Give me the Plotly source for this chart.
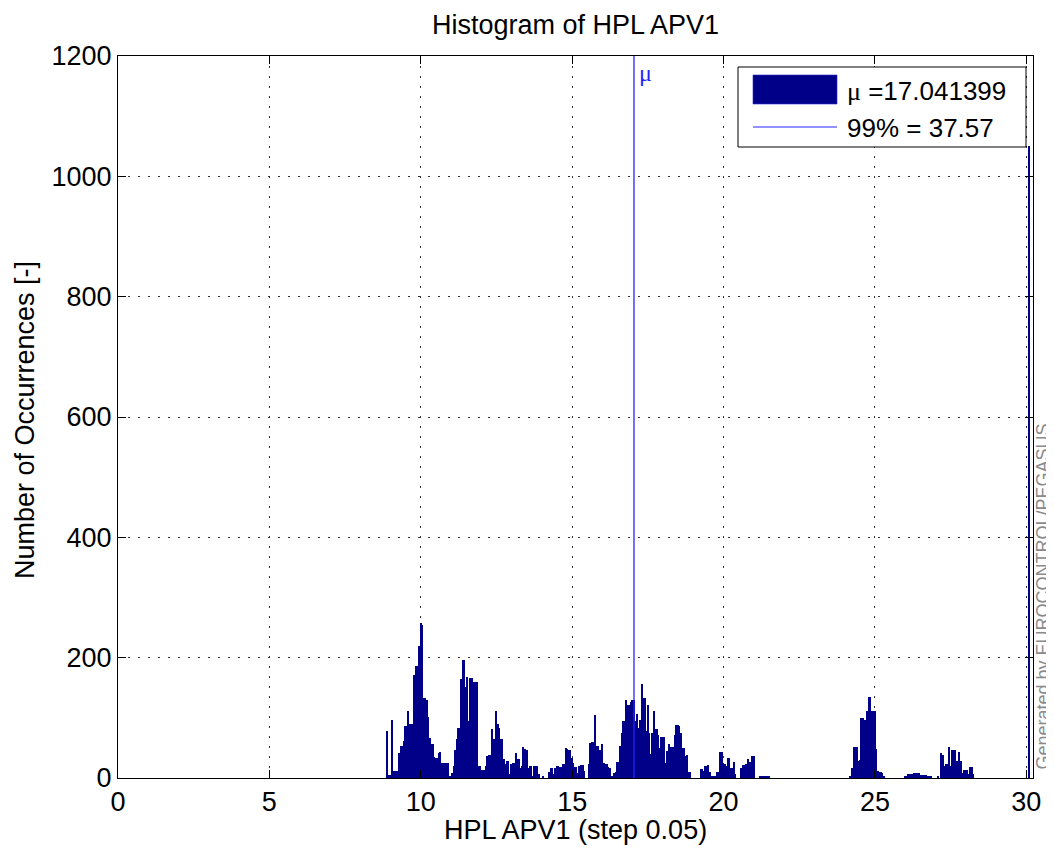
import plotly.graph_objects as go

# ---------------- data ----------------
bin_start = 8.90      # centre of first bin
bin_step = 0.05       # histogram step
counts = [
    # 8.90 - 12.20
    78, 5, 5, 96, 12, 12, 12, 12, 42, 53, 53, 61, 86, 86, 111, 89, 90, 90, 171, 186,
    186, 220, 258, 255, 133, 133, 129, 102, 67, 56, 56, 35, 34, 34, 41, 43, 25, 25, 25, 25,
    25, 3, 3, 8, 20, 46, 64, 83, 83, 164, 196, 196, 152, 168, 94, 166, 166, 160, 159, 159,
    20, 20, 13, 13, 13, 20, 36,
    # 12.25 - 15.85
    39, 39, 82, 65, 65, 112, 90, 83, 65, 65, 31, 24, 28, 28, 6, 23, 25, 25, 41, 32,
    32, 17, 20, 52, 49, 47, 17, 20, 20, 4, 20, 20, 20, 6, 0, 0, 4, 0, 0, 0,
    10, 17, 17, 6, 17, 20, 20, 19, 19, 23, 23, 50, 48, 47, 47, 34, 25, 19, 19, 8,
    20, 21, 21, 12, 0, 0, 23, 58, 60, 60, 105, 53, 53,
    # 15.90 - 19.45
    47, 47, 56, 25, 24, 24, 19, 17, 3, 3, 8, 10, 26, 26, 53, 74, 94, 94, 130, 122,
    122, 127, 130, 129, 94, 107, 83, 97, 156, 133, 133, 78, 121, 75, 40, 75, 111, 82, 82, 72,
    50, 68, 68, 68, 25, 45, 57, 52, 52, 52, 71, 88, 88, 87, 75, 50, 50, 37, 39, 10,
    10, 0, 0, 0, 0, 0, 0, 15, 15, 12, 20, 20,
    # 19.50 - 21.50
    21, 10, 4, 4, 4, 4, 10, 10, 43, 43, 25, 24, 20, 34, 34, 17, 17, 26, 6, 0,
    0, 0, 17, 21, 21, 24, 31, 26, 26, 36, 36, 0, 0, 0, 4, 4, 4, 4, 3, 3, 4,
    # 21.55 - 24.15
    0, 0, 0, 0, 0, 0, 0, 0, 0, 0, 0, 0, 0, 0, 0, 0, 0, 0, 0, 0,
    0, 0, 0, 0, 0, 0, 0, 0, 0, 0, 0, 0, 0, 0, 0, 0, 0, 0, 0, 0,
    0, 0, 0, 0, 0, 0, 0, 0, 0, 0, 0, 0, 0,
    # 24.20 - 26.70
    3, 17, 52, 52, 52, 28, 30, 100, 100, 96, 96, 112, 134, 134, 112, 112, 112, 48, 12, 10,
    10, 8, 3, 0, 0, 0, 0, 0, 0, 0, 0, 0, 0, 0, 0, 0, 4, 4, 6, 6,
    7, 7, 9, 9, 8, 8, 5, 5, 5, 5, 5,
    # 26.75 - 28.25
    3, 3, 3, 0, 0, 0, 0, 3, 0, 41, 39, 20, 23, 23, 52, 20, 46, 46, 46, 28,
    28, 43, 28, 8, 14, 14, 14, 6, 19, 19, 6,
]
overflow_x = 30.1       # last (overflow) bin
overflow_count = 1050
mean_value = 17.041399
p99_value = 37.57
x_ticks = [0, 5, 10, 15, 20, 25, 30]
y_ticks = [0, 200, 400, 600, 800, 1000, 1200]

title_text = "Histogram of HPL APV1"
x_title = "HPL APV1 (step 0.05)"
y_title = "Number of Occurrences [-]"
MU = '<span style="font-family:Liberation Serif, DejaVu Serif, serif">\u03bc</span>'
legend_bar_text = MU + " =%.6f" % mean_value
legend_line_text = "99%% = %.2f" % p99_value
watermark = "Generated by EUROCONTROL/PEGASUS"

# ---------------- figure ----------------
OFF = 8                      # page body margin of the html page
W, H = 1054 - OFF, 850 - OFF
L = 118 - OFF
T = 56 - OFF
R = W - (1033 - OFF)
B = H - (778 - OFF)
FONT = "Liberation Sans, Arial, sans-serif"
NAVY = "#000088"
BLUE = "#2424ff"


def px(xp):
    """page x pixel -> paper fraction"""
    return (xp - OFF - L) / (W - L - R)


def py(yp):
    """page y pixel -> paper fraction"""
    return (H - B - (yp - OFF)) / (H - T - B)


bin_x = [round(bin_start + i * bin_step, 2) for i in range(len(counts))] + [overflow_x]
bin_y = counts + [overflow_count]

fig = go.Figure()
fig.add_trace(go.Bar(
    x=bin_x, y=bin_y, width=bin_step,
    marker=dict(color=NAVY, line=dict(width=0)),
    name="HPL APV1", showlegend=False,
))

shapes = [
    # mean line
    dict(type="line", xref="x", yref="paper", x0=mean_value, x1=mean_value, y0=0, y1=1,
         line=dict(color=BLUE, width=1.3), layer="above"),
    # legend box
    dict(type="rect", xref="paper", yref="paper", x0=px(738), x1=px(1026), y0=py(147), y1=py(67),
         line=dict(color="black", width=1), fillcolor="white", layer="above"),
    dict(type="rect", xref="paper", yref="paper", x0=px(753), x1=px(837), y0=py(104), y1=py(75),
         line=dict(color="#2a2ad0", width=0.6), fillcolor=NAVY, layer="above"),
    dict(type="line", xref="paper", yref="paper", x0=px(753), x1=px(837), y0=py(127), y1=py(127),
         line=dict(color=BLUE, width=1), layer="above"),
]

annotations = [
    dict(text=title_text, xref="paper", yref="paper", x=0.5, y=py(25), xanchor="center",
         yanchor="middle", showarrow=False, font=dict(size=27, color="black", family=FONT)),
    dict(text=x_title, xref="paper", yref="paper", x=0.5, y=py(830), xanchor="center",
         yanchor="middle", showarrow=False, font=dict(size=27, color="black", family=FONT)),
    dict(text=y_title, xref="paper", yref="paper", x=px(25), y=py(420), xanchor="center",
         yanchor="middle", textangle=-90, showarrow=False,
         font=dict(size=27, color="black", family=FONT)),
    dict(text=MU, xref="x", yref="paper", x=mean_value, y=py(73), xanchor="left",
         xshift=3, yanchor="middle", showarrow=False,
         font=dict(size=24, color=BLUE, family=FONT)),
    dict(text=legend_bar_text, xref="paper", yref="paper", x=px(845), y=py(91), xanchor="left",
         yanchor="middle", showarrow=False, font=dict(size=26, color="black", family=FONT)),
    dict(text=legend_line_text, xref="paper", yref="paper", x=px(845), y=py(128), xanchor="left",
         yanchor="middle", showarrow=False, font=dict(size=26, color="black", family=FONT)),
    dict(text=watermark, xref="paper", yref="paper", x=px(1042.5), y=py(597), xanchor="center",
         yanchor="middle", textangle=-90, showarrow=False,
         font=dict(size=18, color="#8a8a8a", family=FONT)),
]

axis_common = dict(
    showline=True, linecolor="black", linewidth=1, mirror="ticks",
    ticks="inside", ticklen=8, tickcolor="black", tickwidth=1,
    showgrid=True, gridcolor="#333333", griddash="2px,8px", gridwidth=1.3,
    zeroline=False, tickfont=dict(size=27, color="black", family=FONT),
)

fig.update_layout(
    width=W, height=H,
    margin=dict(l=L, r=R, t=T, b=B, autoexpand=False),
    paper_bgcolor="white", plot_bgcolor="white",
    bargap=0, showlegend=False,
    xaxis=dict(range=[0, 30.22], tickvals=x_ticks, ticktext=[str(v) for v in x_ticks], **axis_common),
    yaxis=dict(range=[0, 1200], tickvals=y_ticks, ticktext=[str(v) for v in y_ticks], **axis_common),
    shapes=shapes, annotations=annotations,
    font=dict(family=FONT),
)

fig.write_html("out.html")
